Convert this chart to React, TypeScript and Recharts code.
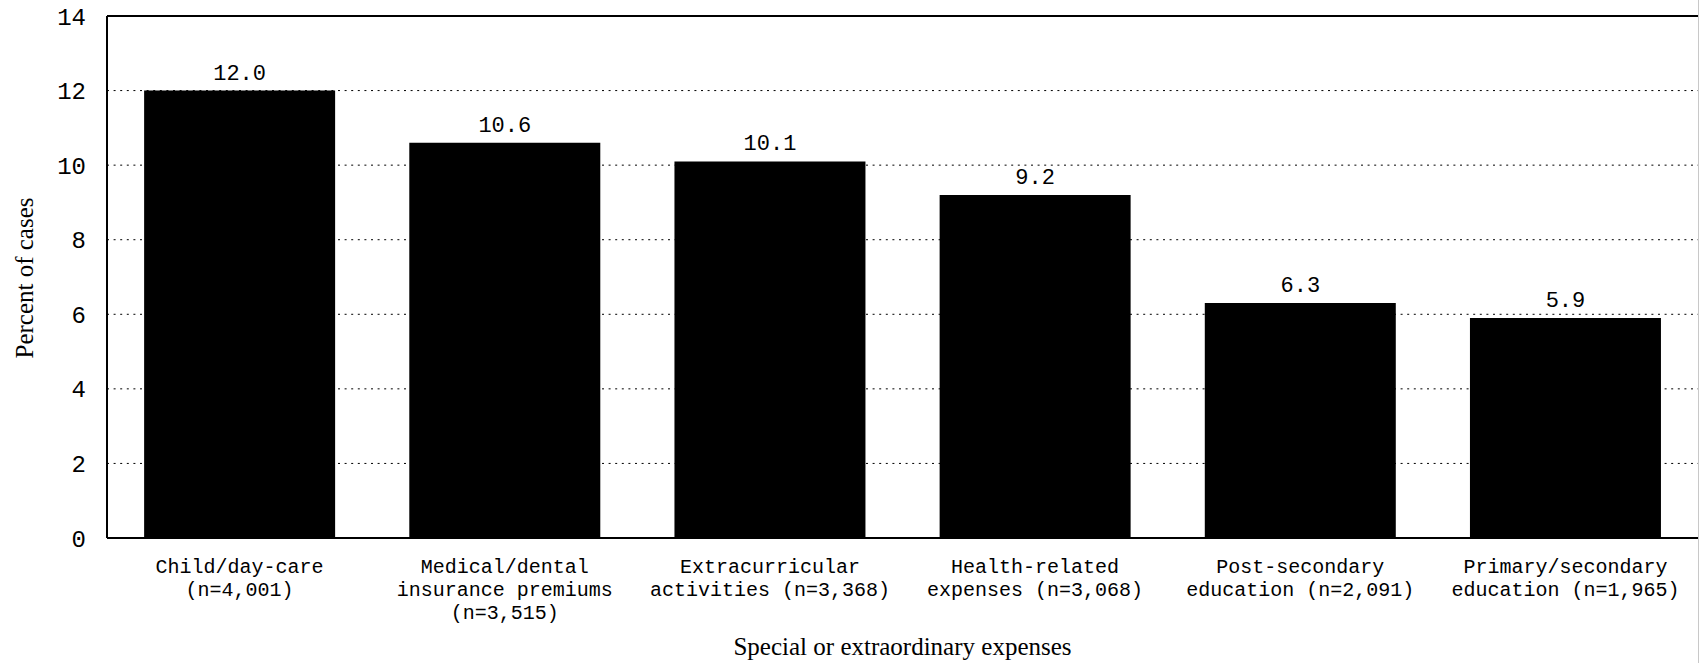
import React from 'react';
import {
  BarChart,
  Bar,
  XAxis,
  YAxis,
  CartesianGrid,
  ReferenceLine,
  LabelList,
} from 'recharts';

const W = 1699;
const H = 663;

const MONO = '"Liberation Mono", "DejaVu Sans Mono", monospace';
const SERIF = '"Liberation Serif", "DejaVu Serif", serif';

// categories, one line per "\n"
const categories = [
  'Child/day-care\n(n=4,001)',
  'Medical/dental\ninsurance premiums\n(n=3,515)',
  'Extracurricular\nactivities (n=3,368)',
  'Health-related\nexpenses (n=3,068)',
  'Post-secondary\neducation (n=2,091)',
  'Primary/secondary\neducation (n=1,965)',
];

const percentValues = [12.0, 10.6, 10.1, 9.2, 6.3, 5.9];

const yTicks = [0, 2, 4, 6, 8, 10, 12, 14];

const data = categories.map((name, i) => ({ name, value: percentValues[i] }));

const CategoryTick = (props: any) => {
  const { x, y, payload } = props;
  const lines = String(payload.value).split('\n');
  return (
    <g>
      {lines.map((line, i) => (
        <text
          key={i}
          x={x}
          y={y + 35 + i * 23}
          textAnchor="middle"
          fontFamily={MONO}
          fontSize={20}
          fill="#000"
        >
          {line}
        </text>
      ))}
    </g>
  );
};

const YTitle = (props: any) => {
  const { viewBox } = props;
  const cx = viewBox.x + 24;
  const cy = viewBox.y + viewBox.height / 2 + 1;
  return (
    <text
      x={cx}
      y={cy}
      transform={`rotate(-90, ${cx}, ${cy})`}
      textAnchor="middle"
      dominantBaseline="central"
      fontFamily={SERIF}
      fontSize={25}
      fill="#000"
    >
      Percent of cases
    </text>
  );
};

const XTitle = (props: any) => {
  const { viewBox } = props;
  return (
    <text
      x={viewBox.x + viewBox.width / 2}
      y={viewBox.y + 117}
      textAnchor="middle"
      fontFamily={SERIF}
      fontSize={25}
      fill="#000"
    >
      Special or extraordinary expenses
    </text>
  );
};

export default function App() {
  return (
    <div style={{ position: 'absolute', left: 0, top: 0, width: W, height: H, background: '#fff' }}>
      <BarChart
        width={W}
        height={H}
        data={data}
        margin={{ top: 16, right: 1, bottom: 0, left: 0 }}
        barCategoryGap="14%"
      >
        <CartesianGrid
          horizontal
          vertical={false}
          stroke="#000"
          strokeDasharray="2 4.6"
        />
        <XAxis
          dataKey="name"
          height={125}
          interval={0}
          tickLine={false}
          tickSize={0}
          tickMargin={0}
          axisLine={{ stroke: '#000', strokeWidth: 2 }}
          tick={<CategoryTick />}
          label={<XTitle />}
        />
        <YAxis
          width={107}
          domain={[0, 14]}
          ticks={yTicks}
          interval={0}
          tickLine={false}
          tickSize={0}
          tickMargin={21}
          axisLine={{ stroke: '#000', strokeWidth: 2 }}
          tick={{ fill: '#000', fontFamily: MONO, fontSize: 24 }}
          label={<YTitle />}
        />
        <ReferenceLine y={14} stroke="#000" strokeWidth={2} />
        <Bar dataKey="value" fill="#000" isAnimationActive={false}>
          <LabelList
            dataKey="value"
            position="top"
            offset={11}
            fill="#000"
            fontFamily={MONO}
            fontSize={22}
            formatter={(v: any) => Number(v).toFixed(1)}
          />
        </Bar>
      </BarChart>
      <div style={{ position: 'absolute', left: W - 1, top: 0, width: 1, height: H, background: '#c8c8c8' }} />
    </div>
  );
}
